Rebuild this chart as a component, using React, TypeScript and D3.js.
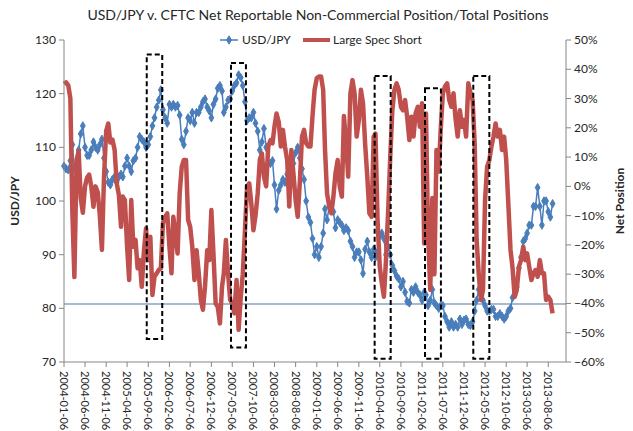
import React from 'react';
import * as d3 from 'd3';

const TITLE = 'USD/JPY v. CFTC Net Reportable Non-Commercial Position/Total Positions';

// semi-monthly readings (6th and 21st of each month), starting 2004-01-06
const usdJpy = [
  106.5, 106, 105.8, 107.5, 110.5, 106, 107, 109.5, 112.5, 114, 110, 108.5, 108.5, 109.5, 111, 110, 109.5, 110.5, 111.5, 108, 105.5, 103.5, 103, 104,
  104.5, 103.5, 104.5, 105, 104.5, 106.5, 108, 106.5, 105.5, 107.5, 108, 110, 112, 111.5, 111, 110, 110.5, 112, 114, 115.5, 117.5, 118.8, 120.7, 117,
  115.5, 114.5, 118, 117.5, 118, 117.5, 117.8, 116, 111.5, 110.5, 113, 115.5, 115, 116.5, 114.5, 116.5, 116.5, 117.5, 118.5, 119, 117.5, 116.8, 115.5, 118,
  119, 121, 121.5, 120.5, 116.5, 117.5, 118.8, 119, 120.5, 121.5, 122, 123.5, 123, 121.5, 118.5, 115, 115.5, 115.5, 116.5, 114.5, 113, 109.5, 111, 113.5,
  110, 107, 107, 107.5, 103, 98.5, 102, 103, 104, 103.5, 105, 107.5, 107, 107, 109, 110, 108, 106, 104, 100, 97, 96, 93, 90,
  91.5, 89.5, 91.5, 94, 98.5, 96.5, 99, 98.5, 98, 95, 96.5, 96, 95.5, 94.5, 95, 94.5, 92.5, 91.5, 89.5, 90.5, 90.5, 89, 86.5, 91,
  92.5, 90.5, 89.5, 91, 89.5, 90.5, 93.5, 94, 93, 90, 91.5, 90, 88, 87, 86, 85.5, 84, 85, 83, 81.3, 81, 83.5, 83, 84,
  83, 82.5, 81.5, 83, 82.5, 80.5, 81.5, 83.5, 81, 80.5, 80, 80.5, 80.5, 78.5, 77.5, 76.5, 77.5, 76.5, 77, 76.5, 78, 77, 77.8, 78,
  77, 76.8, 77.5, 79.5, 81.5, 83.5, 82.5, 81.5, 80.5, 79.5, 79.5, 79.8, 79.8, 78.5, 78.5, 79, 78.5, 78, 78.5, 79.5, 80, 82, 82.5, 84,
  87.5, 89.5, 92.5, 93, 94, 95.5, 95.5, 99, 99, 102.5, 99, 95.5, 100, 100, 98, 97, 99.5,
];

// net position, % of total positions
const specShort = [
  35, 35.5, 34.5, 30, -8, -31, 9, 12, -4, -9, 0, 3, 4, 0, -7, 0, -2, -10, -21.7, 3, 19, 21.5, 15, 16,
  12.4, 1, -3, -13.8, -3.5, -4.7, -20.6, -32, -4.7, -20.6, -18.3, -28, -25.2, -34.3, -22, -14.3, -25.2, -17.2, -37.1, -30.9, -29.7, -28.5, -28, -12.6,
  -10.4, -9.2, -20.6, -29.7, -10.4, -16, -22.9, -2.4, 6.7, 9, 9, -11.5, -13.8, -20.6, -32, -21.8, -29.7, -38.8, -42.2, -34.3, -21.8, -25.2, -8.1, -22.9,
  -40, -41.1, -46.8, -34.3, -29.7, -18.3, -30, -38.8, -40, -43.4, -32, -49, -38, -30, -15, 0, 1, -6, -15, -10, -2.4, 9, 11.3, 3.3,
  0, 13.6, 15.8, 14.7, 20.4, 24.9, 22, 13.6, 19.3, 13.6, 9, -6.9, 12.4, 4.4, -4.7, -10.4, 2, 17, 19.3, 14.7, 13.6, 13.6, 24, 33,
  37, 37.5, 37.5, 33, 13, -2.4, -6.9, -9.2, -3.5, 4.4, 9, -0.1, -3.5, 24, 14.7, 3.3, 31.8, 36.3, 31.8, 17, 22.7, 33, 28.4, 14.7,
  3.3, -9.2, -10.4, 17, 18, -11.5, -27.4, -33.1, -37.7, -25.2, -8, 10.2, 26.1, 32.9, 35.2, 33, 27.2, 26, 29.5, 23.8, 15.8, 23.8, 17, 24.9,
  27.2, 20.4, 28.4, -19.5, 24.9, -16, -35.4, -4, -30, 12.4, 5, 20, 31.8, 34.1, 35.2, 29.5, 27.2, 31.8, 23, 17, 26, 20.4, 22.7, 17,
  35.2, 32, 29.5, 14.7, -18.3, -29.7, -38.8, -35.4, -4.7, 6.7, 9, 13.6, 17, 21.5, 17, 19.3, 12.4, 17, 9, -5.8, -21.7, -28, -37.7, -35.4,
  -27.4, -25.2, -20.6, -25.2, -22.9, -27.4, -32, -29.7, -28.6, -30.9, -25.2, -29.7, -29.7, -38.8, -37.7, -38.8, -43.4,
];

const leftTicks = [70, 80, 90, 100, 110, 120, 130];
const rightTicks = [-0.6, -0.5, -0.4, -0.3, -0.2, -0.1, 0, 0.1, 0.2, 0.3, 0.4, 0.5];
const dateTicks = [
  '2004-01-06', '2004-06-06', '2004-11-06', '2005-04-06', '2005-09-06', '2006-02-06',
  '2006-07-06', '2006-12-06', '2007-05-06', '2007-10-06', '2008-03-06', '2008-08-06',
  '2009-01-06', '2009-06-06', '2009-11-06', '2010-04-06', '2010-09-06', '2011-02-06',
  '2011-07-06', '2011-12-06', '2012-05-06', '2012-10-06', '2013-03-06', '2013-08-06',
];
const refLevel = 80.8;

// dashed highlight boxes (dates, USD/JPY levels)
const boxFrom = ['2005-08-26', '2007-04-27', '2010-02-28', '2011-02-27', '2012-02-11'];
const boxTo = ['2005-12-16', '2007-08-13', '2010-06-24', '2011-06-22', '2012-06-06'];
const boxTop = [127.3, 125.7, 123.3, 121.0, 123.3];
const boxBottom = [74.3, 72.7, 70.6, 70.6, 70.6];

const FONT = 'Lato, "Open Sans", sans-serif';
const BLUE = '#4a7ebb';
const RED = '#c0504d';
const AXIS = '#868686';

const parse = d3.timeParse('%Y-%m-%d');
const dates = usdJpy.map((_, i) => new Date(2004, Math.floor(i / 2), i % 2 ? 21 : 6));

export default function App() {
  const width = 633;
  const height = 431;
  const left = 64, right = 566, top = 40, bottom = 362;

  const x = d3.scaleTime()
    .domain([parse('2004-01-06'), parse('2013-12-12')])
    .range([left, right]);
  const yL = d3.scaleLinear().domain([70, 130]).range([bottom, top]);
  const yR = d3.scaleLinear().domain([-0.6, 0.5]).range([bottom, top]);

  const blueLine = d3.line<number>()
    .x((_, i) => x(dates[i]))
    .y(d => yL(d));
  const redLine = d3.line<number>()
    .x((_, i) => x(dates[i]))
    .y(d => yR(d / 100));
  const diamond = d3.symbol().type(d3.symbolDiamond).size(20)();

  return (
    <svg width={width} height={height} style={{ display: 'block', background: '#fff' }}>
      <style>{'body{margin:0}'}</style>
      <text x={318} y={20} textAnchor="middle" fontFamily={FONT} fontSize={14} fill="#262626">{TITLE}</text>

      {/* legend */}
      <line x1={220} x2={238} y1={40} y2={40} stroke={BLUE} strokeWidth={1.5} />
      <path d={diamond} transform="translate(229,40)" fill={BLUE} stroke={BLUE} strokeWidth={1} />
      <text x={242} y={44} fontFamily={FONT} fontSize={12} fill="#262626">USD/JPY</text>
      <line x1={303} x2={330} y1={40} y2={40} stroke={RED} strokeWidth={4} />
      <text x={333} y={44} fontFamily={FONT} fontSize={12} fill="#262626">Large Spec Short</text>

      {/* reference level */}
      <line x1={left} x2={right} y1={yL(refLevel)} y2={yL(refLevel)} stroke="#8ba3c0" strokeWidth={1.5} />

      {/* USD/JPY */}
      <path d={blueLine(usdJpy) || ''} fill="none" stroke={BLUE} strokeWidth={1.5} />
      {usdJpy.map((v, i) => (
        <path key={i} d={diamond} transform={`translate(${x(dates[i])},${yL(v)})`} fill={BLUE} stroke={BLUE} strokeWidth={1} />
      ))}

      {/* Large spec short */}
      <path d={redLine(specShort) || ''} fill="none" stroke={RED} strokeWidth={4.5} strokeLinejoin="round" />

      {/* highlight boxes */}
      {boxFrom.map((f, i) => {
        const x0 = x(parse(f)!);
        const x1 = x(parse(boxTo[i])!);
        return (
          <rect key={f} x={x0} y={yL(boxTop[i])} width={x1 - x0} height={yL(boxBottom[i]) - yL(boxTop[i])}
            fill="none" stroke="#000" strokeWidth={2} strokeDasharray="5,3" />
        );
      })}

      {/* left axis */}
      <line x1={left} x2={left} y1={top} y2={bottom} stroke={AXIS} />
      {leftTicks.map(t => (
        <g key={t}>
          <line x1={left - 5} x2={left} y1={yL(t)} y2={yL(t)} stroke={AXIS} />
          <text x={left - 8} y={yL(t) + 4} textAnchor="end" fontFamily={FONT} fontSize={12} fill="#262626">{t}</text>
        </g>
      ))}
      <text transform={`translate(19,${(top + bottom) / 2}) rotate(-90)`} textAnchor="middle" fontFamily={FONT} fontSize={12} fontWeight="bold" fill="#262626">USD/JPY</text>

      {/* right axis */}
      <line x1={right} x2={right} y1={top} y2={bottom} stroke={AXIS} />
      {rightTicks.map(t => (
        <g key={t}>
          <line x1={right} x2={right + 5} y1={yR(t)} y2={yR(t)} stroke={AXIS} />
          <text x={right + 8} y={yR(t) + 4} fontFamily={FONT} fontSize={12} fill="#262626">{d3.format('.0%')(t)}</text>
        </g>
      ))}
      <text transform={`translate(624,${(top + bottom) / 2}) rotate(-90)`} textAnchor="middle" fontFamily={FONT} fontSize={12} fontWeight="bold" fill="#262626">Net Position</text>

      {/* date axis */}
      <line x1={left} x2={right} y1={bottom} y2={bottom} stroke={AXIS} />
      {dateTicks.map(t => {
        const tx = x(parse(t)!);
        return (
          <g key={t}>
            <line x1={tx} x2={tx} y1={bottom} y2={bottom + 5} stroke={AXIS} />
            <text transform={`translate(${tx - 4},${bottom + 9}) rotate(90)`} fontFamily={FONT} fontSize={11} fill="#262626">{t}</text>
          </g>
        );
      })}
    </svg>
  );
}
